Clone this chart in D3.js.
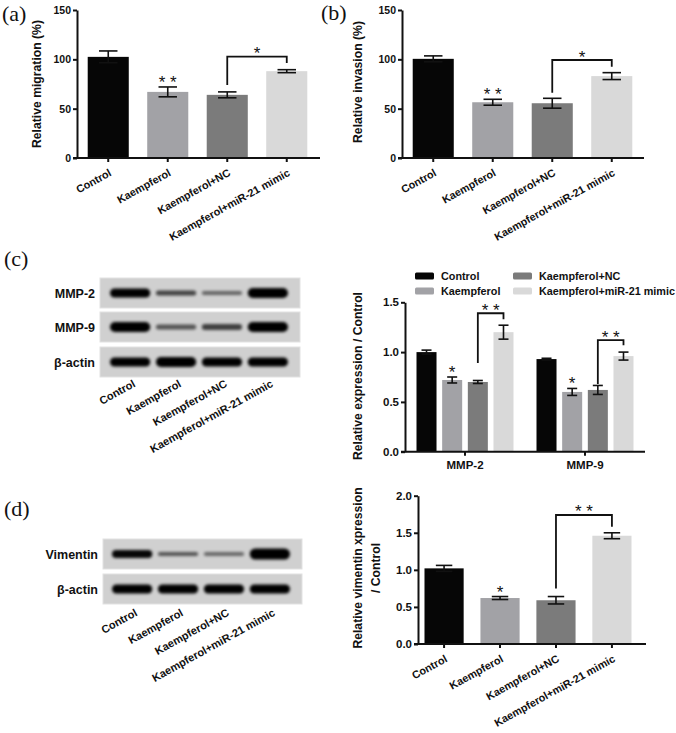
<!DOCTYPE html>
<html>
<head>
<meta charset="utf-8">
<script src="https://cdn.jsdelivr.net/npm/d3@7/dist/d3.min.js"></script>
<style>
  html, body { margin: 0; padding: 0; background: #fff; }
  svg { display: block; }
  text { font-family: "Liberation Sans", Arial, sans-serif; }
</style>
</head>
<body>
<svg id="fig" width="676" height="733"></svg>
<script>
// ---------------- DATA ----------------
const groups = ["Control", "Kaempferol", "Kaempferol+NC", "Kaempferol+miR-21 mimic"];
const barColors = ["#060606", "#a2a2a6", "#7b7b7b", "#d9d9d9"];

// (a) migration
const migrationMean = [102.5, 67, 64, 88];
const migrationErr  = [6, 5, 3, 1.5];
const migrationStars = ["", "* *", "", ""];
const migrationBracket = { from: 2, to: 3, y: 102.7, leftEnd: 74, rightEnd: 96.3, label: "*" };
const pctTicks = [0, 50, 100, 150];

// (b) invasion
const invasionMean = [100.5, 56.5, 55.5, 83];
const invasionErr  = [3, 3, 5, 3.5];
const invasionStars = ["", "* *", "", ""];
const invasionBracket = { from: 2, to: 3, y: 99.3, leftEnd: 66.2, rightEnd: 92.5, label: "*" };

// (c) MMP expression
const proteins = ["MMP-2", "MMP-9"];
const mmp2Mean = [1.0, 0.72, 0.70, 1.20];
const mmp2Err  = [0.02, 0.03, 0.015, 0.07];
const mmp9Mean = [0.93, 0.60, 0.62, 0.96];
const mmp9Err  = [0.008, 0.035, 0.045, 0.04];
const mmp2Stars = ["", "*", "", ""];
const mmp9Stars = ["", "*", "", ""];
const mmp2Bracket = { from: 2, to: 3, y: 1.39, leftEnd: 0.89, rightEnd: 1.33, label: "* *" };
const mmp9Bracket = { from: 2, to: 3, y: 1.12, leftEnd: 0.68, rightEnd: 1.07, label: "* *" };
const exprTicks = [0, 0.5, 1.0, 1.5];

// (d) vimentin
const vimMean = [1.02, 0.62, 0.59, 1.46];
const vimErr  = [0.04, 0.02, 0.05, 0.04];
const vimStars = ["", "*", "", ""];
const vimBracket = { from: 2, to: 3, y: 1.74, leftEnd: 0.75, rightEnd: 1.58, label: "* *" };
const vimTicks = [0, 0.5, 1.0, 1.5, 2.0];

// Western blot band intensities (relative darkness) per lane
const blotC = [
  { name: "MMP-2",   intensity: [1.0, 0.68, 0.52, 1.0], thick: [9, 5, 4, 10] },
  { name: "MMP-9",   intensity: [1.0, 0.6, 0.7, 1.0],   thick: [10, 5, 6, 10] },
  { name: "β-actin", intensity: [1.0, 1.0, 1.0, 1.0],   thick: [9, 10, 9, 9] }
];
const blotD = [
  { name: "Vimentin", intensity: [0.97, 0.6, 0.5, 1.0], thick: [8, 4, 4, 11] },
  { name: "β-actin",  intensity: [1.0, 1.0, 1.0, 1.0],  thick: [9, 9, 9, 9] }
];

// ---------------- DRAWING ----------------
const svg = d3.select("#fig");
const defs = svg.append("defs");
defs.append("filter").attr("id", "blur").attr("x", "-20%").attr("y", "-80%").attr("width", "140%").attr("height", "260%")
  .append("feGaussianBlur").attr("stdDeviation", 1.5);

function panelLabel(txt, x, y) {
  svg.append("text").attr("x", x).attr("y", y).text(txt)
    .style("font-family", "'Liberation Serif', 'Times New Roman', serif")
    .style("font-size", "22px").attr("fill", "#111");
}

function yAxis(g, y, ticks, fmt, fs) {
  const ax = d3.axisLeft(y).tickValues(ticks).tickSize(4).tickSizeOuter(0).tickPadding(2).tickFormat(fmt);
  const a = g.append("g").attr("transform", `translate(${y.axisX},0)`).call(ax);
  a.select(".domain").attr("stroke", "#111").attr("stroke-width", 2);
  a.selectAll(".tick line").attr("stroke", "#111").attr("stroke-width", 2);
  a.selectAll(".tick text").attr("fill", "#111").style("font-size", fs + "px").style("font-weight", "bold");
}

function yTitle(lines, x, cy, fs) {
  const t = svg.append("text").attr("transform", `translate(${x},${cy}) rotate(-90)`)
    .attr("text-anchor", "middle").style("font-size", fs + "px").style("font-weight", "bold").attr("fill", "#111");
  lines.forEach((l, i) => t.append("tspan").attr("x", 0).attr("dy", i === 0 ? 0 : "1.5em").text(l));
}

function rotatedLabels(cats, xs, y0, dx, dy, fs) {
  svg.selectAll(null).data(cats).enter().append("text")
    .attr("transform", (d, i) => `translate(${xs[i] + dx},${y0 + dy}) rotate(-29)`)
    .attr("text-anchor", "end").style("font-size", fs + "px").style("font-weight", "bold")
    .attr("fill", "#111").text(d => d);
}

function drawErr(g, cx, y, mean, err, cap) {
  g.append("line").attr("x1", cx).attr("x2", cx).attr("y1", y(mean - err)).attr("y2", y(mean + err))
    .attr("stroke", "#111").attr("stroke-width", 1.6);
  [mean - err, mean + err].forEach(v => {
    g.append("line").attr("x1", cx - cap / 2).attr("x2", cx + cap / 2).attr("y1", y(v)).attr("y2", y(v))
      .attr("stroke", "#111").attr("stroke-width", 1.6);
  });
}

function drawStar(g, cx, baseY, label) {
  if (!label) return;
  g.append("text").attr("x", cx).attr("y", baseY + 1.5).attr("text-anchor", "middle")
    .style("font-size", "17px").attr("fill", "#111").text(label);
}

function drawBracket(g, x1, x2, y, b) {
  g.append("path")
    .attr("d", `M${x1},${y(b.leftEnd)}V${y(b.y)}H${x2}V${y(b.rightEnd)}`)
    .attr("fill", "none").attr("stroke", "#111").attr("stroke-width", 1.8);
  drawStar(g, (x1 + x2) / 2, y(b.y) + 1, b.label);
}

function barPanel(opt) {
  const g = svg.append("g");
  const x = d3.scaleBand().domain(groups).range(opt.xRange).paddingInner(opt.pi).paddingOuter(opt.po);
  const y = d3.scaleLinear().domain(opt.domain).range(opt.yRange);
  y.axisX = opt.xRange[0];
  const y0 = y(0);
  g.selectAll(null).data(opt.mean).enter().append("rect")
    .attr("x", (d, i) => x(groups[i])).attr("width", x.bandwidth())
    .attr("y", d => y(d)).attr("height", d => y0 - y(d))
    .attr("fill", (d, i) => barColors[i]);
  opt.mean.forEach((m, i) => {
    const cx = x(groups[i]) + x.bandwidth() / 2;
    drawErr(g, cx, y, m, opt.err[i], x.bandwidth() * opt.cap);
    drawStar(g, cx, y(m + opt.err[i]) - 0.5, opt.stars[i]);
  });
  const c = i => x(groups[i]) + x.bandwidth() / 2;
  drawBracket(g, c(opt.bracket.from), c(opt.bracket.to), y, opt.bracket);
  // x axis
  g.append("line").attr("x1", opt.xRange[0] - 4).attr("x2", opt.xEnd).attr("y1", y0).attr("y2", y0)
    .attr("stroke", "#111").attr("stroke-width", 2);
  groups.forEach((gr, i) => {
    g.append("line").attr("x1", c(i)).attr("x2", c(i)).attr("y1", y0).attr("y2", y0 + 4)
      .attr("stroke", "#111").attr("stroke-width", 2);
  });
  yAxis(g, y, opt.ticks, opt.fmt, opt.tickFs);
  rotatedLabels(groups, groups.map((d, i) => c(i)), y0, 4, 17, 10.8);
}

// (a)
panelLabel("(a)", 2, 21);
barPanel({ xRange: [77, 318], xEnd: 320, pi: 0.31, po: 0.18, domain: [0, 150], yRange: [158, 10],
  mean: migrationMean, err: migrationErr, stars: migrationStars, bracket: migrationBracket,
  ticks: pctTicks, fmt: d3.format("d"), tickFs: 10.5, cap: 0.45 });
yTitle(["Relative migration (%)"], 41, 84, 12.2);

// (b)
panelLabel("(b)", 321, 20);
barPanel({ xRange: [402, 643], xEnd: 644, pi: 0.31, po: 0.18, domain: [0, 150], yRange: [158, 10],
  mean: invasionMean, err: invasionErr, stars: invasionStars, bracket: invasionBracket,
  ticks: pctTicks, fmt: d3.format("d"), tickFs: 10.5, cap: 0.45 });
yTitle(["Relative invasion (%)"], 362, 82, 12.2);

// Blots
function blot(rows, boxX, rowY, rowH, lanes, labelX, laneLabelDy) {
  const lx = d3.scaleBand().domain(groups).range(lanes).paddingInner(0.08);
  rows.forEach((r, ri) => {
    const top = rowY[ri];
    svg.append("rect").attr("x", boxX[0]).attr("y", top).attr("width", boxX[1] - boxX[0]).attr("height", rowH)
      .attr("fill", "#d0d0d0").attr("stroke", "#e2e2e2").attr("stroke-width", 1);
    const cy = top + rowH / 2;
    const bg = svg.append("g").attr("filter", "url(#blur)");
    r.intensity.forEach((v, i) => {
      const th = r.thick[i];
      bg.append("rect").attr("x", lx(groups[i]) + 1).attr("width", lx.bandwidth() - 2)
        .attr("y", cy - th / 2).attr("height", th).attr("rx", th / 2)
        .attr("fill", "#050505").attr("opacity", v);
    });
    svg.append("text").attr("x", labelX).attr("y", cy).attr("dy", "0.36em").attr("text-anchor", "end")
      .style("font-size", "12.5px").style("font-weight", "bold").attr("fill", "#111").text(r.name);
  });
  const bottom = rowY[rowY.length - 1] + rowH;
  rotatedLabels(groups, groups.map(g => lx(g) + lx.bandwidth() / 2), bottom, 6, laneLabelDy, 11);
}

panelLabel("(c)", 4, 266);
blot(blotC, [100, 300], [278, 312, 347], 30, [109, 289], 95, 9);

panelLabel("(d)", 4, 516);
blot(blotD, [103, 302], [539, 574], 30, [111, 291], 98, 11);

// (c) grouped bars
(function () {
  const g = svg.append("g");
  const series = [ [mmp2Mean, mmp2Err, mmp2Stars, mmp2Bracket], [mmp9Mean, mmp9Err, mmp9Stars, mmp9Bracket] ];
  const x0 = d3.scaleBand().domain(proteins).range([405, 645]);
  const x1 = d3.scaleBand().domain(groups).range([11.5, 108.5]).paddingInner(0.22);
  const y = d3.scaleLinear().domain([0, 1.5]).range([451.7, 302.3]);
  y.axisX = 405;
  const y0 = y(0);
  proteins.forEach((p, pi) => {
    const [mean, err, stars, br] = series[pi];
    const gx = x0(p);
    g.selectAll(null).data(mean).enter().append("rect")
      .attr("x", (d, i) => gx + x1(groups[i])).attr("width", x1.bandwidth())
      .attr("y", d => y(d)).attr("height", d => y0 - y(d)).attr("fill", (d, i) => barColors[i]);
    const c = i => gx + x1(groups[i]) + x1.bandwidth() / 2;
    mean.forEach((m, i) => {
      drawErr(g, c(i), y, m, err[i], x1.bandwidth() * 0.5);
      drawStar(g, c(i), y(m + err[i]) - 0.5, stars[i]);
    });
    drawBracket(g, c(br.from), c(br.to), y, br);
    g.append("line").attr("x1", gx + x0.bandwidth() / 2).attr("x2", gx + x0.bandwidth() / 2)
      .attr("y1", y0).attr("y2", y0 + 4).attr("stroke", "#111").attr("stroke-width", 2);
    g.append("text").attr("x", gx + x0.bandwidth() / 2).attr("y", y0 + 17).attr("text-anchor", "middle")
      .style("font-size", "11.5px").style("font-weight", "bold").attr("fill", "#111").text(p);
  });
  g.append("line").attr("x1", 401).attr("x2", 645).attr("y1", y0).attr("y2", y0)
    .attr("stroke", "#111").attr("stroke-width", 2);
  yAxis(g, y, exprTicks, d3.format(".1f"), 11.5);
  yTitle(["Relative expression / Control"], 362, 376, 12.2);

  // legend
  const leg = svg.append("g");
  const legPos = [[415, 276], [415, 291], [513, 276], [513, 291]];
  groups.forEach((gr, i) => {
    const [lx, ly] = legPos[i];
    leg.append("rect").attr("x", lx).attr("y", ly - 3.5).attr("width", 19).attr("height", 7).attr("rx", 1.5)
      .attr("fill", barColors[i]);
    leg.append("text").attr("x", lx + 26).attr("y", ly).attr("dy", "0.36em")
      .style("font-size", "10.8px").style("font-weight", "bold").attr("fill", "#111").text(gr);
  });
})();

// (d) vimentin bars
barPanel({ xRange: [418, 638], xEnd: 646, pi: 0.3, po: 0.116, domain: [0, 2], yRange: [644, 495.7],
  mean: vimMean, err: vimErr, stars: vimStars, bracket: vimBracket,
  ticks: vimTicks, fmt: d3.format(".1f"), tickFs: 11.5, cap: 0.42 });
yTitle(["Relative vimentin xpression", "/ Control"], 362, 568, 12.2);
</script>
</body>
</html>
